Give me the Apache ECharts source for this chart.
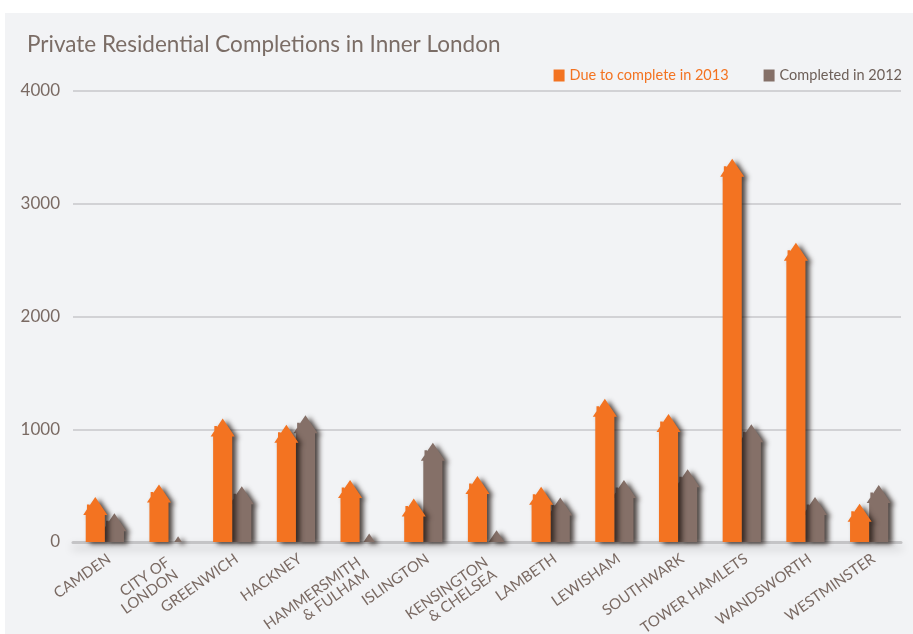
<!DOCTYPE html>
<html>
<head>
<meta charset="utf-8">
<script src="https://cdn.jsdelivr.net/npm/echarts@6/dist/echarts.min.js"></script>
<style>
html,body{margin:0;padding:0;background:#ffffff;}
#c{width:913px;height:634px;}
</style>
</head>
<body>
<div id="c"></div>
<script>
var categories = ['CAMDEN','CITY OF\nLONDON','GREENWICH','HACKNEY','HAMMERSMITH\n& FULHAM','ISLINGTON','KENSINGTON\n& CHELSEA','LAMBETH','LEWISHAM','SOUTHWARK','TOWER HAMLETS','WANDSWORTH','WESTMINSTER'];
var due2013 = [400, 510, 1095, 1040, 550, 385, 585, 490, 1270, 1135, 3400, 2655, 340];
var completed2012 = [255, 50, 495, 1125, 75, 880, 105, 395, 550, 645, 1045, 400, 505];
var yTicks = [0, 1000, 2000, 3000, 4000];

var ORANGE = '#f37321';
var BROWN = '#857068';

function houseRender(side, color) {
  return function (params, api) {
    var idx = api.value(0), val = api.value(1);
    var base = api.coord([idx, 0]);
    var top = api.coord([idx, val]);
    var band = api.size([1, 0])[0];
    var bw = band * 0.30;
    var xc = base[0];
    var x0 = side < 0 ? xc - bw : xc;
    var x1 = x0 + bw;
    var mid = (x0 + x1) / 2;
    var R = 18, oh = 2.5, W = bw / 2 + oh;
    var h = base[1] - top[1];
    var pts;
    if (h >= R) {
      var eave = top[1] + R;
      var slope = function (x) { return eave - R * (x - (x0 - oh)) / W; };
      var cl = x0 + 1.2, cr = x0 + 3.8, ct = eave - 10.5;
      pts = [
        [x0, base[1]], [x0, eave], [x0 - oh, eave],
        [cl, slope(cl)], [cl, ct], [cr, ct], [cr, slope(cr)],
        [mid, top[1]], [x1 + oh, eave], [x1, eave], [x1, base[1]]
      ];
    } else {
      var hw = W * h / R;
      pts = [[mid - hw, base[1]], [mid, top[1]], [mid + hw, base[1]]];
    }
    return {
      type: 'polygon',
      shape: { points: pts },
      style: {
        fill: color,
        shadowBlur: 5,
        shadowOffsetX: 4,
        shadowOffsetY: 2,
        shadowColor: 'rgba(35,25,20,0.8)'
      }
    };
  };
}

var axisCategories = categories.map(function (c) {
  var multi = c.indexOf('\n') >= 0;
  return {
    value: c,
    textStyle: multi
      ? { verticalAlign: 'top', padding: [0, 6, 0, 0] }
      : { verticalAlign: 'top' }
  };
});

var chart = echarts.init(document.getElementById('c'), null, { renderer: 'canvas' });
var option = {
  backgroundColor: '#ffffff',
  animation: false,
  graphic: [{
    type: 'rect',
    z: -10,
    shape: { x: 5, y: 13, width: 920, height: 640 },
    style: { fill: '#f2f3f5' }
  }],
  title: {
    text: 'Private Residential Completions in Inner London',
    left: 22, top: 28,
    textStyle: { fontFamily: 'Lato', fontSize: 22.5, fontWeight: 'normal', color: '#7b6d66' }
  },
  legend: {
    right: 6, top: 63,
    icon: 'rect', itemWidth: 11, itemHeight: 12, itemGap: 35,
    textStyle: { fontFamily: 'Lato', fontSize: 14.5 },
    data: [
      { name: 'Due to complete in 2013', textStyle: { color: ORANGE } },
      { name: 'Completed in 2012', textStyle: { color: '#6d5f58' } }
    ]
  },
  grid: { left: 73, right: 12, top: 91, bottom: 92, containLabel: false, outerBoundsMode: 'none' },
  xAxis: {
    type: 'category',
    data: axisCategories,
    axisTick: { show: false },
    axisLine: { lineStyle: { color: '#c4c4c6', width: 3, shadowBlur: 10, shadowColor: 'rgba(0,0,0,0.22)', shadowOffsetY: 5 } },
    axisLabel: {
      interval: 0, rotate: 35, margin: 9,
      fontFamily: 'Lato', fontSize: 15, color: '#7a6a63', lineHeight: 15
    }
  },
  yAxis: {
    type: 'value',
    min: 0, max: 4000, interval: 1000,
    axisLine: { show: false },
    axisTick: { show: false },
    splitLine: { lineStyle: { color: '#d2d2d5', width: 2 } },
    axisLabel: {
      margin: 13, fontFamily: 'Lato', fontSize: 17, color: '#7a6a63',
      formatter: function (v) { return yTicks.indexOf(v) >= 0 ? String(v) : ''; }
    }
  },
  series: [
    {
      name: 'Due to complete in 2013',
      type: 'custom',
      itemStyle: { color: ORANGE },
      renderItem: houseRender(-1, ORANGE),
      encode: { x: 0, y: 1 },
      data: due2013.map(function (v, i) { return [i, v]; }),
      z: 3
    },
    {
      name: 'Completed in 2012',
      type: 'custom',
      itemStyle: { color: BROWN },
      renderItem: houseRender(1, BROWN),
      encode: { x: 0, y: 1 },
      data: completed2012.map(function (v, i) { return [i, v]; }),
      z: 2
    }
  ]
};
chart.setOption(option);
</script>
</body>
</html>
